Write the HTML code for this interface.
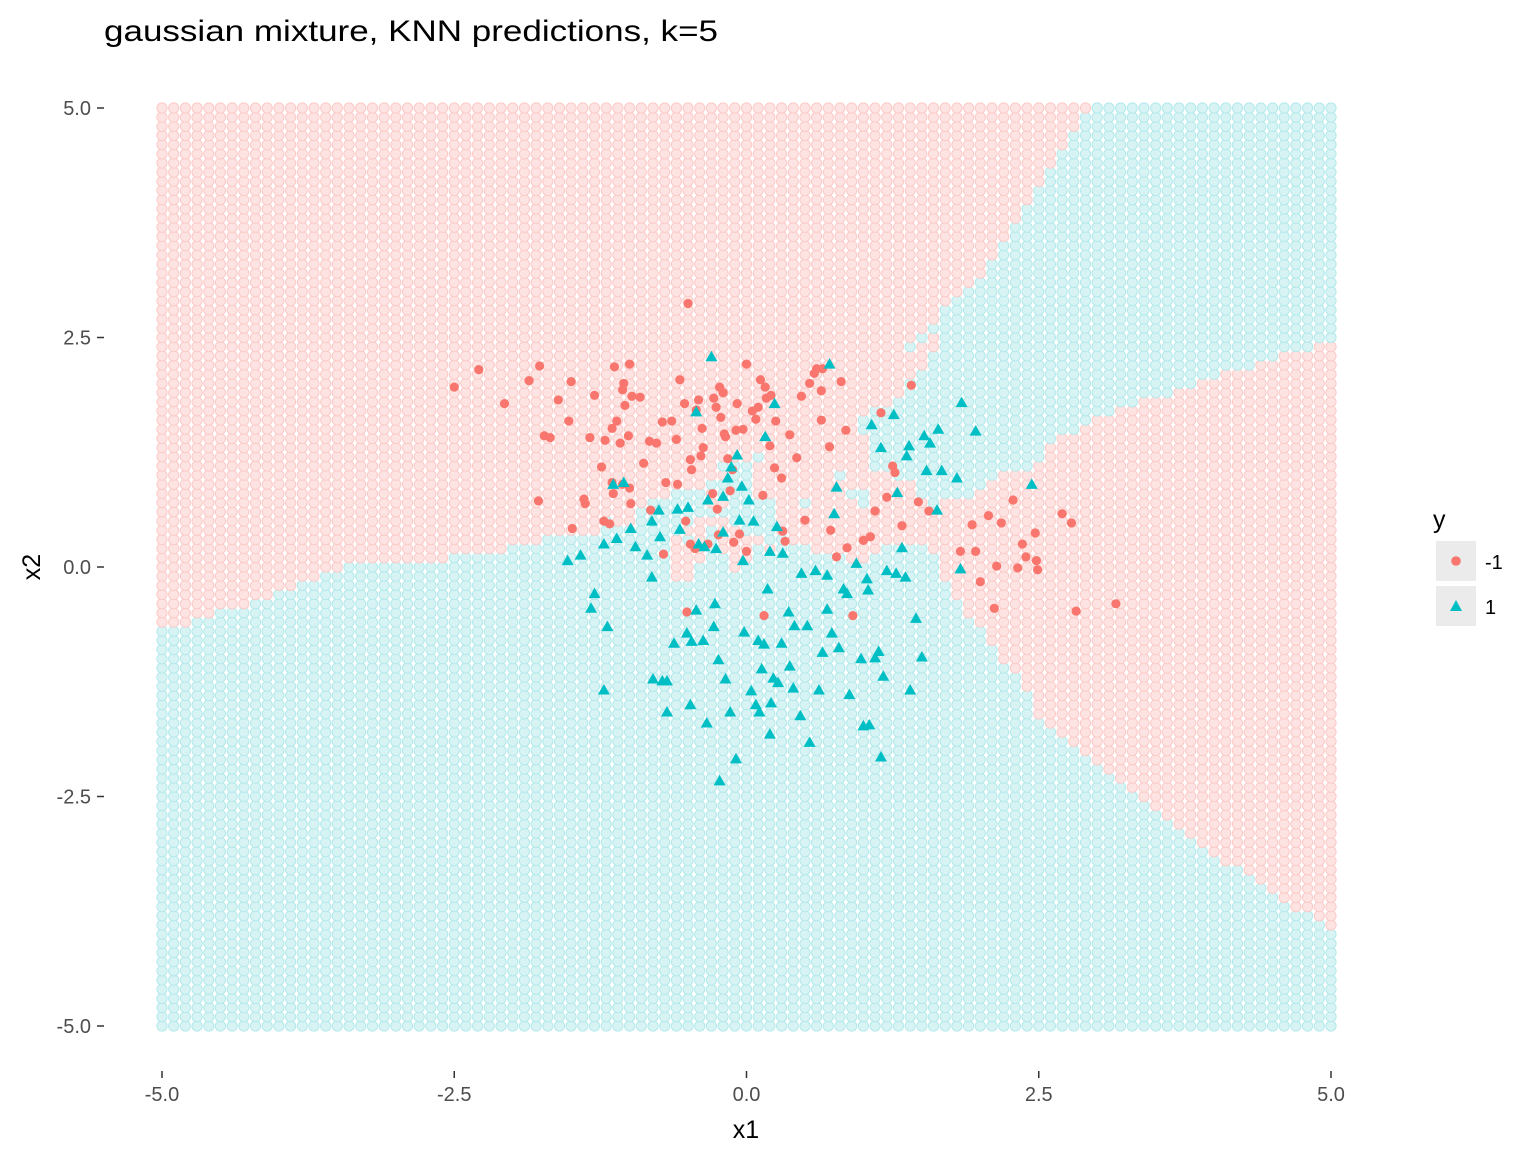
<!DOCTYPE html>
<html><head><meta charset="utf-8"><style>
html,body{margin:0;padding:0;background:#fff;}
svg{display:block;font-family:"Liberation Sans",Arial,sans-serif;}
</style></head><body>
<svg id="chart" width="1536" height="1152" viewBox="0 0 1536 1152">
<text x="104" y="41" font-size="30" textLength="614" lengthAdjust="spacingAndGlyphs" fill="#000">gaussian mixture, KNN predictions, k=5</text>
<g id="grid"></g>
<g id="pts"></g>
<g id="axes"></g>
<text x="746" y="1138" font-size="25" text-anchor="middle">x1</text>
<text transform="translate(40,567) rotate(-90)" font-size="25" text-anchor="middle">x2</text>
<g>
<text x="1433" y="528" font-size="25">y</text>
<rect x="1436" y="541" width="40" height="40" fill="#ebebeb"/>
<circle cx="1456" cy="561" r="4.8" fill="#F8766D"/>
<text x="1485" y="569" font-size="20">-1</text>
<rect x="1436" y="586" width="40" height="40" fill="#ebebeb"/>
<polygon points="1456,600 1462,611 1450,611" fill="#00BFC4"/>
<text x="1485" y="614" font-size="20">1</text>
</g>
</svg>
<script>
const xTicks=[-5,-2.5,0,2.5,5];
const yTicks=[-5,-2.5,0,2.5,5];
const xTickLabels=["-5.0","-2.5","0.0","2.5","5.0"];
const yTickLabels=["-5.0","-2.5","0.0","2.5","5.0"];
const K=5;
const gridN=101;
const redX=[-2.5,-2.29,-2.07,-1.86,-1.77,-1.73,-1.68,-1.78,-1.61,-1.52,-1.5,-1.49,-1.39,-1.38,-1.34,-1.3,-1.24,-1.21,-1.22,-1.17,-1.15,-1.13,-1.11,-1.15,-1.14,-1.08,-1.06,-1.05,-1.06,-1.04,-1.01,-1.0,-1.0,-0.99,-0.98,-0.91,-0.88,-0.83,-0.82,-0.77,-0.72,-0.71,-0.69,-0.64,-0.6,-0.59,-0.57,-0.53,-0.52,-0.51,-0.5,-0.48,-0.48,-0.47,-0.44,-0.43,-0.41,-0.39,-0.38,-0.37,-0.33,-0.29,-0.28,-0.26,-0.25,-0.24,-0.23,-0.22,-0.2,-0.19,-0.18,-0.16,-0.14,-0.12,-0.11,-0.09,-0.08,-0.06,-0.03,0.0,0.0,0.05,0.08,0.1,0.12,0.14,0.15,0.16,0.17,0.2,0.21,0.24,0.25,0.3,0.31,0.33,0.37,0.43,0.47,0.5,0.54,0.58,0.6,0.64,0.65,0.64,0.71,0.72,0.77,0.81,0.85,0.86,0.91,1.0,1.06,1.1,1.15,1.2,1.25,1.27,1.33,1.41,1.47,1.56,1.83,1.93,1.96,2.0,2.07,2.12,2.14,2.18,2.28,2.36,2.39,2.47,2.49,2.48,2.7,2.78,2.82,3.16,2.32];
const redY=[1.96,2.15,1.78,2.03,2.19,1.43,1.41,0.72,1.82,1.59,2.02,0.42,0.74,0.69,1.41,1.87,1.09,1.38,0.5,0.47,1.51,2.18,1.59,0.92,0.8,1.35,1.93,2.0,0.9,1.76,1.43,0.86,2.21,0.69,1.86,1.85,1.13,1.37,0.62,1.35,1.58,0.14,0.92,1.59,1.39,0.9,2.04,1.78,0.5,-0.49,2.87,1.17,0.25,1.06,0.2,1.71,1.82,1.21,1.51,1.3,0.25,0.8,1.84,1.74,0.63,0.35,1.96,1.63,1.9,1.45,1.42,1.18,0.83,1.06,0.27,1.49,1.78,0.36,1.5,2.21,0.17,1.7,1.61,1.74,2.04,0.78,-0.53,1.96,1.84,1.32,1.87,1.08,1.59,0.97,0.39,0.28,1.44,1.19,1.86,0.51,2.0,2.11,2.16,1.92,2.16,1.6,1.31,0.4,0.11,2.02,1.49,0.21,-0.53,0.29,0.33,0.61,1.68,0.76,1.1,1.03,0.45,1.98,0.71,0.61,0.17,0.46,0.17,-0.16,0.56,-0.45,0.01,0.48,0.73,0.25,0.11,0.37,-0.03,0.07,0.58,0.48,-0.48,-0.4,-0.01];
const cyanX=[-1.53,-1.42,-1.3,-1.33,-1.22,-1.19,-1.22,-1.14,-1.11,-1.05,-0.99,-0.95,-0.85,-0.81,-0.81,-0.75,-0.74,-0.8,-0.72,-0.68,-0.68,-0.62,-0.59,-0.57,-0.51,-0.5,-0.47,-0.48,-0.43,-0.43,-0.41,-0.37,-0.36,-0.34,-0.33,-0.3,-0.28,-0.27,-0.26,-0.24,-0.23,-0.2,-0.2,-0.18,-0.16,-0.14,-0.13,-0.09,-0.08,-0.06,-0.04,-0.03,-0.02,0.02,0.04,0.06,0.08,0.1,0.11,0.13,0.15,0.16,0.18,0.2,0.2,0.21,0.23,0.24,0.26,0.27,0.3,0.31,0.36,0.37,0.4,0.41,0.46,0.47,0.52,0.54,0.59,0.62,0.65,0.69,0.69,0.71,0.73,0.75,0.77,0.79,0.83,0.86,0.88,0.94,0.98,1.0,1.03,1.04,1.05,1.07,1.1,1.13,1.15,1.15,1.17,1.2,1.26,1.28,1.29,1.33,1.36,1.37,1.39,1.4,1.45,1.5,1.52,1.54,1.57,1.63,1.64,1.67,1.8,1.83,1.84,1.96,2.44];
const cyanY=[0.07,0.13,-0.29,-0.45,0.25,-0.65,-1.34,0.9,0.31,0.92,0.42,0.22,0.13,-0.11,0.5,0.62,0.33,-1.22,-1.24,-1.58,-1.24,-0.83,0.63,0.41,-0.72,0.65,-0.81,-1.5,-0.47,1.69,0.25,-0.8,0.22,-1.7,0.73,2.29,-0.65,-0.4,0.2,-1.01,-2.33,0.38,0.77,-1.22,0.97,-1.58,1.09,-2.09,1.22,0.51,0.88,0.07,-0.71,0.73,-1.35,0.5,-1.5,-0.8,-1.58,-1.11,-0.84,1.42,-0.24,-1.82,0.17,-1.48,-1.21,1.78,0.44,-1.26,-0.83,0.15,-0.49,-1.08,-1.32,-0.64,-1.62,-0.07,-0.64,-1.91,-0.04,-1.34,-0.93,-0.09,-0.46,2.21,-0.72,0.58,0.87,-0.88,-0.24,-0.29,-1.39,0.04,-1.0,-1.73,-0.13,-0.25,-1.72,1.55,-0.99,-0.92,-2.07,1.3,-1.19,-0.04,1.66,-0.07,0.81,0.21,-0.11,1.21,1.32,-1.34,-0.56,-0.98,1.43,1.05,1.35,0.62,1.5,1.05,0.97,-0.02,1.79,1.48,0.9];

const NS='http://www.w3.org/2000/svg';
const xScale=v=>746.5+v*116.9;
const yScale=v=>567-v*91.8;
function mk(tag,attrs,parent){const e=document.createElementNS(NS,tag);for(const k in attrs)e.setAttribute(k,attrs[k]);parent.appendChild(e);return e;}

const train=[];
redX.forEach((x,i)=>train.push([x,redY[i],-1]));
cyanX.forEach((x,i)=>train.push([x,cyanY[i],1]));
const grid=document.getElementById('grid');
for(let j=0;j<gridN;j++){
  const gy=-5+10*j/(gridN-1);
  for(let i=0;i<gridN;i++){
    const gx=-5+10*i/(gridN-1);
    const d=train.map(p=>[(p[0]-gx)**2+(p[1]-gy)**2,p[2]]).sort((a,b)=>a[0]-b[0]);
    let s=0;for(let k=0;k<K;k++)s+=d[k][1];
    const red=s<0;
    const c=mk('circle',{cx:xScale(gx).toFixed(1),cy:yScale(gy).toFixed(1),r:5.1,fill:red?'#fde3e2':'#d8f3f4',stroke:red?'#fbcac7':'#b2e9eb','stroke-width':1},grid);
    
    
  }
}
const pts=document.getElementById('pts');
redX.forEach((x,i)=>{
  const c=mk('circle',{cx:xScale(x),cy:yScale(redY[i]),r:4.6,fill:'#F8766D'},pts);
  
  
});
cyanX.forEach((x,i)=>{
  const px=xScale(x),py=yScale(cyanY[i]);
  const t=mk('polygon',{points:`${px},${py-6} ${px+6},${py+4.5} ${px-6},${py+4.5}`,fill:'#00BFC4'},pts);
  
  
});
const axes=document.getElementById('axes');
xTicks.forEach((v,i)=>{
  const l=mk('line',{x1:xScale(v),x2:xScale(v),y1:1071,y2:1078,stroke:'#333','stroke-width':1.5},axes);
  
  
  const t=mk('text',{x:xScale(v),y:1101,'font-size':20,fill:'#4d4d4d','text-anchor':'middle'},axes);
  t.textContent=xTickLabels[i];
  
  
});
yTicks.forEach((v,i)=>{
  const l=mk('line',{x1:97,x2:104,y1:yScale(v),y2:yScale(v),stroke:'#333','stroke-width':1.5},axes);
  
  
  const t=mk('text',{x:91,y:yScale(v)+7,'font-size':20,fill:'#4d4d4d','text-anchor':'end'},axes);
  t.textContent=yTickLabels[i];
  
  
});
</script>
</body></html>
